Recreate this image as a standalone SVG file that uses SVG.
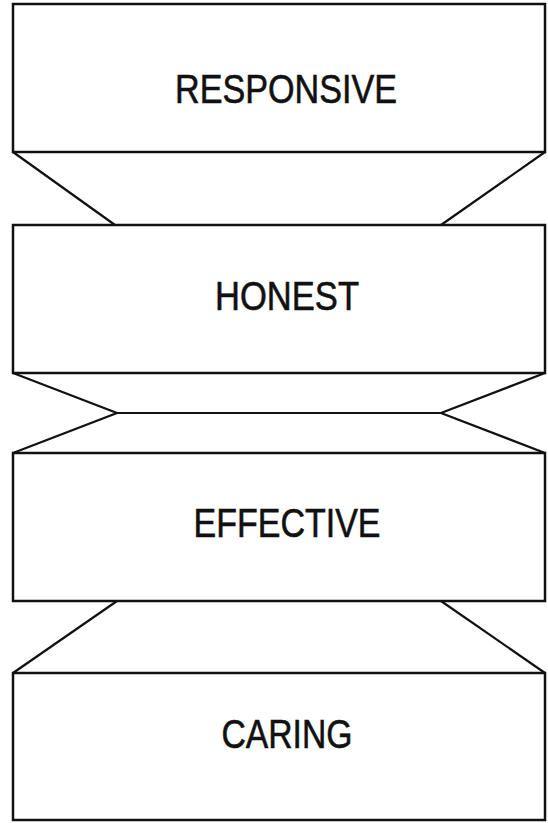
<svg xmlns="http://www.w3.org/2000/svg" width="548" height="823" viewBox="0 0 548 823">
<style>
.box{fill:#fff;stroke:#111;stroke-width:2.5}
.lbl{font-family:"Liberation Sans",Arial,sans-serif;font-size:41px;fill:#111;stroke:#111;stroke-width:0.6;text-anchor:middle}
.con{fill:none;stroke:#111;stroke-width:2.2;stroke-linejoin:miter}
</style>
<rect width="548" height="823" fill="#fff"/>
<g id="connectors">
<polyline class="con" points="13,152 115,225"/>
<polyline class="con" points="545,152 441,225"/>
<polyline class="con" points="13,373 117,413 13,453"/>
<polyline class="con" points="545,373 441,413 545,453"/>
<line class="con" x1="117" y1="413" x2="441" y2="413"/>
<polyline class="con" points="117,601 13,673"/>
<polyline class="con" points="441,601 545,673"/>
</g>
<g id="responsive">
<rect class="box" x="13" y="4" width="532" height="148"/>
<text class="lbl" x="286" y="103" textLength="222" lengthAdjust="spacingAndGlyphs">RESPONSIVE</text>
</g>
<g id="honest">
<rect class="box" x="13" y="225" width="532" height="148"/>
<text class="lbl" x="287" y="310" textLength="144" lengthAdjust="spacingAndGlyphs">HONEST</text>
</g>
<g id="effective">
<rect class="box" x="13" y="453" width="532" height="148"/>
<text class="lbl" x="287" y="537" textLength="187" lengthAdjust="spacingAndGlyphs">EFFECTIVE</text>
</g>
<g id="caring">
<rect class="box" x="13" y="673" width="532" height="147"/>
<text class="lbl" x="287" y="748" textLength="131" lengthAdjust="spacingAndGlyphs">CARING</text>
</g>
</svg>
